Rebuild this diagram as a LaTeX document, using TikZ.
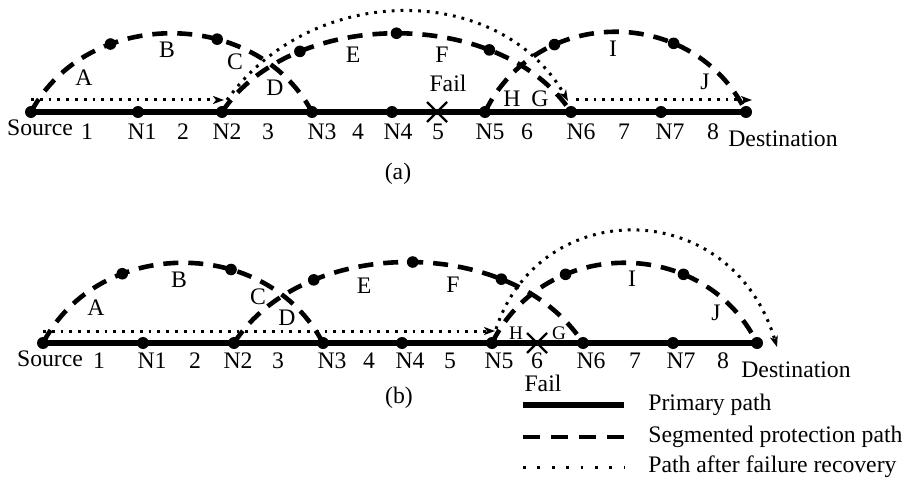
\documentclass[tikz,border=0pt]{standalone}
\usepackage{fontspec}
\setmainfont{Liberation Serif}
\usetikzlibrary{arrows.meta}
\begin{document}
\begin{tikzpicture}[x=0.5pt,y=-0.5pt,
  nd/.style={circle,fill=black,inner sep=0pt,minimum size=6pt},
  sd/.style={circle,fill=black,inner sep=0pt,minimum size=5.8pt},
  lbl/.style={inner sep=0pt,font=\fontsize{11.85}{13}\selectfont},
  sml/.style={inner sep=0pt,font=\fontsize{9.6}{11}\selectfont},
  bl/.style={lbl,anchor=base},
  prim/.style={line width=2.7pt},
  seg/.style={line width=2.3pt,dash pattern=on 7.5pt off 5pt},
  rec/.style={line width=1.5pt,dash pattern=on 1.4pt off 3pt},
  tip/.style={-{Stealth[length=5.5pt,width=4pt,inset=1.5pt]}},
  xm/.style={line width=1.1pt}]
\path[use as bounding box] (0,0) rectangle (905,481);

% ================= (a) =================
\foreach \n/\x in {as/31,an1/138,an2/222,an3/312,an4/392,an5/485,an6/571,an7/661,ad/746}
  \node[nd] (\n) at (\x,112) {};
\draw[prim] (as.center) -- (an1.center) -- (an2.center) -- (an3.center) -- (an4.center)
  -- (an5.center) -- (an6.center) -- (an7.center) -- (ad.center);

\draw[seg] (as.center) .. controls +(56,-105) and +(-56,-105) .. (an3.center)
  node[sd,pos=0.315] (aa1) {} node[sd,pos=0.637] (aa2) {};
\draw[seg] (an2.center) .. controls +(70,-105) and +(-70,-105) .. (an6.center)
  node[sd,pos=0.26] (ab1) {} node[sd,pos=0.5] (ab2) {} node[sd,pos=0.73] (ab3) {};
\draw[seg] (an5.center) .. controls +(52,-107) and +(-52,-107) .. (ad.center)
  node[sd,pos=0.3] (ac1) {} node[sd,pos=0.69] (ac2) {};

\coordinate (ar0) at (31,100);
\coordinate (ar1) at (224,100);
\coordinate (ar2) at (227,100);
\coordinate (ar3) at (568,101);
\coordinate (ar4) at (576,100);
\coordinate (ar5) at (752,100);
\draw[rec,tip] (ar0) -- (ar1);
\draw[rec,tip] (ar2) .. controls +(85,-119) and +(-68,-119) .. (ar3);
\draw[rec,tip] (ar4) -- (ar5);

\coordinate (ax) at (437,112);
\draw[xm] (ax) +(-10,-10) -- +(10,10);
\draw[xm] (ax) +(-10,10) -- +(10,-10);

\node[lbl] (aA) at (84,78) {A};
\node[lbl] (aB) at (167,50) {B};
\node[lbl] (aC) at (235,62) {C};
\node[lbl] (aD) at (275,88) {D};
\node[lbl] (aE) at (353,55) {E};
\node[lbl] (aF) at (442,55) {F};
\node[lbl] (afail) at (448,83) {Fail};
\node[lbl] (aH) at (512,99) {H};
\node[lbl] (aG) at (540,99) {G};
\node[lbl] (aI) at (613,49) {I};
\node[lbl] (aJ) at (705,82) {J};

\node[bl] (asl) at (40,136) {Source};
\foreach \n/\x/\t in {al1/87/1,aln1/142/N1,al2/183/2,aln2/227/N2,al3/268/3,aln3/322/N3,
  al4/358/4,aln4/398/N4,al5/438/5,aln5/490/N5,al6/527/6,aln6/581/N6,al7/624/7,aln7/670/N7,al8/713/8}
  \node[bl] (\n) at (\x,140) {\t};
\node[bl] (adl) at (783,147) {Destination};
\node[lbl] (capa) at (398,174) {(a)};

% ================= (b) =================
\foreach \n/\x in {bs/43,bn1/143,bn2/234,bn3/323,bn4/402,bn5/492,bn6/583,bn7/673,bd/757}
  \node[nd] (\n) at (\x,343) {};
\draw[prim] (bs.center) -- (bn1.center) -- (bn2.center) -- (bn3.center) -- (bn4.center)
  -- (bn5.center) -- (bn6.center) -- (bn7.center) -- (bd.center);

\draw[seg] (bs.center) .. controls +(56,-107) and +(-56,-107) .. (bn3.center)
  node[sd,pos=0.315] (ba1) {} node[sd,pos=0.645] (ba2) {};
\draw[seg] (bn2.center) .. controls +(70,-108) and +(-70,-108) .. (bn6.center)
  node[sd,pos=0.265] (bb1) {} node[sd,pos=0.51] (bb2) {} node[sd,pos=0.73] (bb3) {};
\draw[seg] (bn5.center) .. controls +(53,-107) and +(-53,-107) .. (bd.center)
  node[sd,pos=0.31] (bc1) {} node[sd,pos=0.69] (bc2) {};

\coordinate (br0) at (43,331);
\coordinate (br1) at (495,331);
\coordinate (br2) at (496,329);
\coordinate (br3) at (777,347);
\draw[rec,tip] (br0) -- (br1);
\draw[rec,tip] (br2) .. controls +(44,-134) and +(-46,-152) .. (br3);

\coordinate (bx) at (537,343);
\draw[xm] (bx) +(-10,-10) -- +(10,10);
\draw[xm] (bx) +(-10,10) -- +(10,-10);

\node[lbl] (bA) at (96,308) {A};
\node[lbl] (bB) at (179,280) {B};
\node[lbl] (bC) at (258,297) {C};
\node[lbl] (bD) at (287,318) {D};
\node[lbl] (bE) at (364,286) {E};
\node[lbl] (bF) at (453,285) {F};
\node[sml] (bH) at (516,333) {H};
\node[sml] (bG) at (559,333) {G};
\node[lbl] (bI) at (632,279) {I};
\node[lbl] (bJ) at (716,313) {J};
\node[lbl] (bfail) at (543,383) {Fail};

\node[bl] (bsl) at (50,366) {Source};
\foreach \n/\x/\t in {bl1/99/1,bln1/152/N1,bl2/195/2,bln2/238/N2,bl3/278/3,bln3/332/N3,
  bl4/369/4,bln4/410/N4,bl5/450/5,bln5/499/N5,bl6/537/6,bln6/591/N6,bl7/635/7,bln7/681/N7,bl8/723/8}
  \node[bl] (\n) at (\x,368) {\t};
\node[bl] (bdl) at (796,377) {Destination};
\node[lbl] (capb) at (399,398) {(b)};

% ================= legend =================
\coordinate (l1a) at (523,405); \coordinate (l1b) at (624,405);
\coordinate (l2a) at (523,437); \coordinate (l2b) at (624,437);
\coordinate (l3a) at (523,467); \coordinate (l3b) at (624,467);
\draw[prim] (l1a) -- (l1b);
\draw[line width=2.3pt,dash pattern=on 8.5pt off 5.5pt] (l2a) -- (l2b);
\draw[line width=1.5pt,dash pattern=on 1.4pt off 5.8pt] (l3a) -- (l3b);
\node[lbl,anchor=base west] (l1t) at (648,410) {Primary path};
\node[lbl,anchor=base west] (l2t) at (648,442) {Segmented protection path};
\node[lbl,anchor=base west] (l3t) at (648,472) {Path after failure recovery};
\end{tikzpicture}
\end{document}
